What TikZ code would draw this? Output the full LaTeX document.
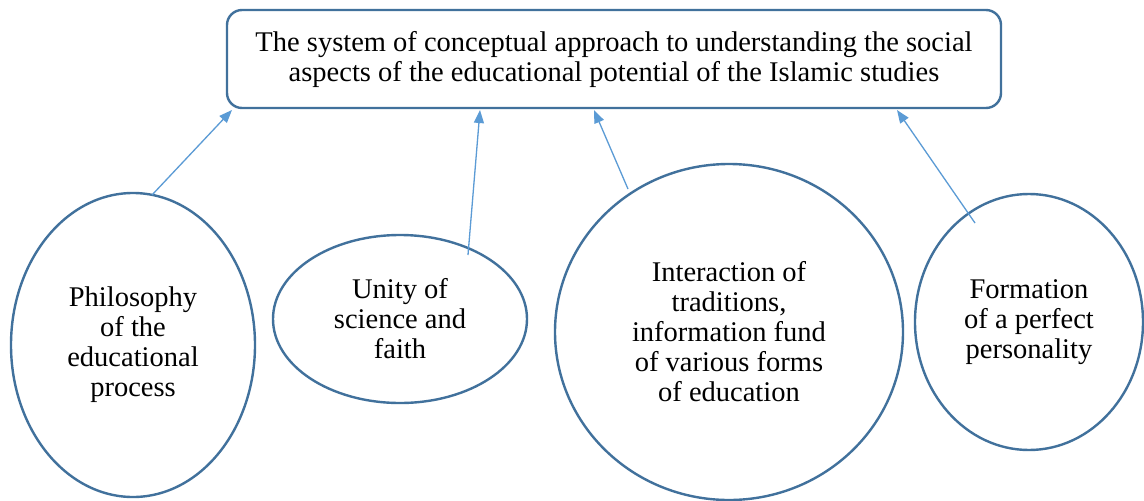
\documentclass[tikz,border=0pt]{standalone}
\usepackage{fontspec}
\setmainfont{Liberation Serif}
\usetikzlibrary{arrows.meta,shapes.geometric}
\definecolor{rimblue}{HTML}{41719C}
\definecolor{linkblue}{HTML}{5B9BD5}
\begin{document}
\begin{tikzpicture}[x=1pt,y=-1pt,
  txt/.style={font=\fontsize{28.5}{30}\selectfont, align=center, text=black},
  topbox/.style={txt, draw=rimblue, line width=2.4pt, rounded corners=15pt,
    minimum width=774pt, minimum height=98pt, inner sep=0pt},
  oval/.style={txt, ellipse, draw=rimblue, line width=2.4pt, inner sep=0pt},
  link/.style={draw=linkblue, line width=1.3pt, -{Triangle[length=13pt,width=10pt]}}]
\useasboundingbox[fill=white] (0,0) rectangle (1144,501);

% heading box
\node[topbox] (head) at (614,59)
  {The system of conceptual approach to understanding the social\\
   aspects of the educational potential of the Islamic studies};

% the four components
\node[oval, minimum width=244pt, minimum height=304pt] (philo) at (133,345)
  {Philosophy\\of the\\educational\\process};
\node[oval, minimum width=254pt, minimum height=168pt] (unity) at (400,319)
  {Unity of\\science and\\faith};
\node[oval, minimum width=348pt, minimum height=336pt] (inter) at (729,332)
  {Interaction of\\traditions,\\information fund\\of various forms\\of education};
\node[oval, minimum width=228pt, minimum height=256pt] (form) at (1029,322)
  {Formation\\of a perfect\\personality};

% arrow starts and ends
\coordinate (s1) at (152,195);
\coordinate (s2) at (468,255);
\coordinate (s3) at (628,189);
\coordinate (s4) at (975,223);
\coordinate (e1) at (232,110);
\coordinate (e2) at (480,110);
\coordinate (e3) at (594,110);
\coordinate (e4) at (897,110);

\draw[link] (s1) -- (e1);
\draw[link] (s2) -- (e2);
\draw[link] (s3) -- (e3);
\draw[link] (s4) -- (e4);
\end{tikzpicture}
\end{document}
